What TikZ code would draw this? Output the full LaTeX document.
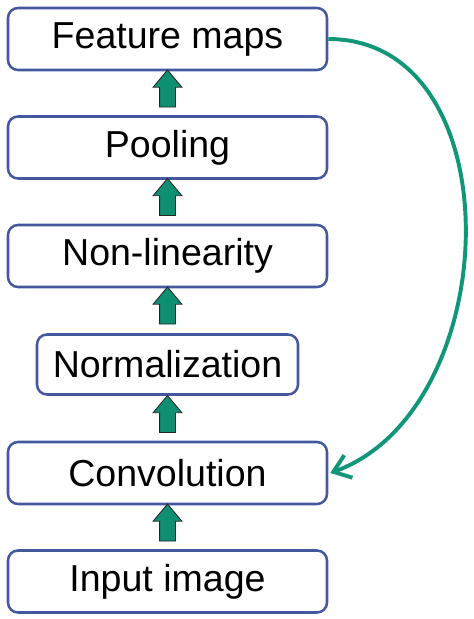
\documentclass[tikz,border=0pt]{standalone}
\usepackage{fontspec}
\setmainfont{Liberation Sans}
\usetikzlibrary{shapes.arrows,arrows.meta,positioning,calc}
\definecolor{boxblue}{RGB}{68,88,158}
\definecolor{flowteal}{RGB}{14,143,114}
\definecolor{loopteal}{RGB}{18,150,122}

\begin{document}
\begin{tikzpicture}[>={Straight Barb[length=0.4cm,width=0.6cm]}, font=\fontsize{26.7}{32}\selectfont]
    \useasboundingbox (0,0) rectangle (11.825,-15.475);

    % Define node styles
    \tikzstyle{stage_block} = [draw=boxblue, line width=1.8pt, rounded corners=0.25cm, minimum width=7.975cm, minimum height=1.55cm, text centered, inner sep=0pt]
    \tikzstyle{norm_block} = [stage_block, minimum width=6.525cm, minimum height=1.5cm]
    \tikzstyle{flow_arrow} = [single arrow, draw=black!85, line width=0.6pt, fill=flowteal, shape border rotate=90, minimum height=0.925cm, inner sep=0.1875cm, single arrow head extend=0.1625cm, single arrow tip angle=80]

    % Draw nodes
    \node [stage_block] (input_image) at (4.1875,-14.5375) {Input image};
    \node [stage_block, above of=input_image, yshift=1.7125cm] (convolution) {Convolution};
    \node [norm_block, above of=convolution, yshift=1.7125cm] (normalization) {Normalization};
    \node [stage_block, above of=normalization, yshift=1.7125cm] (nonlinearity) {Non-linearity};
    \node [stage_block, above of=nonlinearity, yshift=1.7125cm] (pooling) {Pooling};
    \node [stage_block, above of=pooling, yshift=1.7125cm] (feature_maps) {Feature maps};

    \node [flow_arrow] (arrow_1) at ($(input_image)!0.5!(convolution)$) {};
    \node [flow_arrow] (arrow_2) at ($(convolution)!0.5!(normalization)$) {};
    \node [flow_arrow] (arrow_3) at ($(normalization)!0.5!(nonlinearity)$) {};
    \node [flow_arrow] (arrow_4) at ($(nonlinearity)!0.5!(pooling)$) {};
    \node [flow_arrow] (arrow_5) at ($(pooling)!0.5!(feature_maps)$) {};

    % Draw arrows
    \draw [->, loopteal, line width=2.8pt] (feature_maps.east) to[out=0, in=20, looseness=1.1] ([xshift=0.05cm]convolution.east);
\end{tikzpicture}
\end{document}
